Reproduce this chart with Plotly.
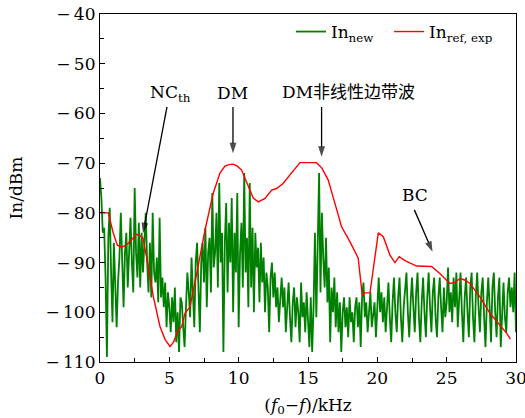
import numpy as np
import plotly.graph_objects as go

# Frequency offset (kHz) for the new-method spectrum, 0.1 kHz step
freq_new = np.round(np.arange(0, 30.0001, 0.1), 1)
in_new = [
    -73, -77, -84, -83, -93, -109, -85, -79, -92, -102,
    -86, -95, -103, -94, -89, -80, -93, -99, -88, -84,
    -95, -86, -81, -90, -96, -75, -88, -93, -82, -95,
    -84, -92, -86, -80, -90, -96, -86, -97, -80, -92,
    -94, -89, -98, -81, -97, -93, -99, -94, -103, -96,
    -99, -104, -97, -102, -95, -106, -100, -108, -97, -98,
    -103, -107, -99, -92, -96, -101, -89, -98, -103, -90,
    -86, -95, -104, -90, -86, -94, -83, -99, -88, -85,
    -96, -76, -91, -88, -80, -95, -74, -90, -84, -108,
    -86, -78, -96, -82, -90, -77, -100, -84, -92, -76,
    -103, -88, -82, -95, -72, -92, -85, -99, -74, -95,
    -83, -100, -84, -91, -87, -98, -86, -94, -89, -100,
    -92, -95, -104, -93, -90, -97, -92, -99, -95, -102,
    -96, -93, -99, -95, -104, -98, -94, -101, -106, -98,
    -95, -103, -97, -100, -106, -94, -101, -98, -104, -96,
    -101, -107, -97, -108, -99, -84, -101, -86, -72, -96,
    -80, -89, -95, -85, -98, -91, -106, -95, -100, -93,
    -103, -96, -104, -98, -108, -100, -97, -103, -99, -105,
    -97, -102, -100, -106, -99, -97, -103, -98, -107, -97,
    -94, -101, -98, -104, -100, -96, -103, -101, -98, -105,
    -99, -93, -100, -96, -102, -97, -104, -99, -94, -101,
    -106, -98, -93, -100, -104, -97, -93, -101, -106, -99,
    -95, -92, -100, -105, -98, -93, -99, -104, -96, -92,
    -101, -106, -98, -93, -100, -105, -97, -92, -99, -104,
    -96, -93, -101, -105, -97, -93, -99, -104, -95, -101,
    -98, -91, -100, -96, -102, -93, -99, -92, -103, -97,
    -92, -100, -106, -97, -93, -100, -105, -95, -92, -101,
    -106, -97, -92, -99, -104, -96, -93, -101, -107, -98,
    -93, -99, -106, -95, -92, -100, -105, -97, -93, -107,
    -99, -94, -101, -104, -96, -93, -99, -95, -100, -92,
    -104,
]

# Reference (experimental) spectrum
freq_ref = [
    0.0, 0.6, 0.95, 1.25, 1.56, 1.9, 2.3, 2.64, 2.9, 3.1, 3.4, 3.85, 4.33,
    4.7, 5.05, 5.3, 5.65, 5.89, 6.13, 6.49, 6.85, 7.2, 7.57, 8.17, 8.65,
    9.01, 9.3, 9.61, 9.9, 10.21, 10.69, 11.05, 11.41, 11.9, 12.38, 12.74,
    13.2, 13.8, 14.42, 15.0, 15.62, 16.0, 16.46, 16.94, 17.42, 18.02,
    18.62, 18.91, 19.1, 19.47, 20.07, 20.43, 20.91, 21.27, 21.58, 21.99,
    22.83, 23.91, 24.51, 25.23, 25.6, 25.96, 26.3, 26.68, 27.4, 28.12,
    28.84, 29.32, 29.6,
]
in_ref = [
    -80.0, -80.0, -84.0, -86.5, -86.9, -86.5, -85.3, -84.3, -84.6, -85.1,
    -89.5, -96.9, -102.9, -105.5, -106.9, -106.0, -103.6, -102.9, -100.2,
    -98.9, -94.0, -89.0, -83.5, -76.0, -72.0, -70.6, -70.3, -70.2, -70.6,
    -71.4, -74.7, -77.0, -77.8, -77.1, -75.4, -75.1, -74.1, -72.0, -69.9,
    -69.9, -69.9, -71.0, -73.4, -78.1, -82.8, -85.8, -89.1, -96.5, -96.1,
    -96.1, -84.0, -84.8, -88.5, -90.0, -88.8, -89.6, -90.7, -90.8, -92.2,
    -94.2, -94.0, -93.2, -93.5, -94.2, -96.9, -100.2, -102.6, -104.2,
    -105.4,
]

# Arrow annotations: label, label position, arrow tail, arrow tip
labels = ["NC<sub>th</sub>", "DM", "DM非线性边带波", "BC"]
label_x = [5.05, 9.59, 17.95, 22.71]
label_y = [-55.9, -55.9, -55.7, -76.4]
tail_x = [4.83, 9.59, 15.98, 22.67]
tail_y = [-58.7, -58.7, -58.7, -79.4]
tip_x = [3.10, 9.59, 15.98, 23.98]
tip_y = [-84.1, -68.0, -68.7, -87.8]

FONT = "DejaVu Serif, Noto Sans CJK SC, serif"

fig = go.Figure()
fig.add_trace(go.Scatter(
    x=freq_new, y=in_new, mode="lines", name="In<sub>new</sub>",
    line=dict(color="#008000", width=1.8), legend="legend",
))
fig.add_trace(go.Scatter(
    x=freq_ref, y=in_ref, mode="lines", name="In<sub>ref, exp</sub>",
    line=dict(color="#ff0000", width=1.4), legend="legend2",
))

# Arrows: a shaft from tail to tip with an arrowhead marker oriented along it
for ax, ay, x, y in zip(tail_x, tail_y, tip_x, tip_y):
    fig.add_trace(go.Scatter(
        x=[ax, x], y=[ay, y], mode="lines+markers", showlegend=False,
        hoverinfo="skip",
        line=dict(color="black", width=1.3),
        marker=dict(symbol="arrow", size=[0, 11], angleref="previous",
                    color="black", line=dict(width=0)),
    ))

for t, lx, ly in zip(labels, label_x, label_y):
    fig.add_annotation(x=lx, y=ly, text=t, showarrow=False,
                       font=dict(family=FONT, size=17, color="black"))

y_ticks = [-110, -100, -90, -80, -70, -60, -50, -40]
x_ticks = [0, 5, 10, 15, 20, 25, 30]

fig.update_xaxes(
    range=[0, 30], tickvals=x_ticks, ticktext=[str(v) for v in x_ticks],
    ticks="inside", ticklen=5, tickwidth=1, tickcolor="black",
    ticklabeloverflow="allow",
    minor=dict(ticks="inside", dtick=2.5, ticklen=4, tickcolor="black"),
    showline=True, linecolor="black", linewidth=1.2, mirror=True,
    showgrid=False, zeroline=False,
    title=dict(text="(<i>f</i><sub>0</sub>\u2212<i>f</i>)/kHz", standoff=12,
               font=dict(family=FONT, size=17)),
    tickfont=dict(family=FONT, size=17, color="black"),
)
fig.update_yaxes(
    range=[-110, -40], tickvals=y_ticks,
    ticktext=["\u2212\u2009" + str(-v) for v in y_ticks],
    ticks="inside", ticklen=5, tickwidth=1, tickcolor="black",
    minor=dict(ticks="inside", dtick=5, ticklen=4, tickcolor="black"),
    showline=True, linecolor="black", linewidth=1.2, mirror=True,
    showgrid=False, zeroline=False,
    title=dict(text="In/dBm", standoff=18, font=dict(family=FONT, size=17)),
    tickfont=dict(family=FONT, size=17, color="black"),
)

legend_style = dict(orientation="h", xanchor="left", y=1.0, yanchor="top",
                    bgcolor="rgba(0,0,0,0)", font=dict(family=FONT, size=17),
                    itemwidth=30)

fig.update_layout(
    width=525, height=418,
    margin=dict(l=100, r=9, t=14, b=56, autoexpand=False),
    paper_bgcolor="white", plot_bgcolor="white",
    font=dict(family=FONT, size=17, color="black"),
    showlegend=True,
    legend=dict(x=0.459, **legend_style),
    legend2=dict(x=0.695, **legend_style),
)

fig.write_html("out.html")
